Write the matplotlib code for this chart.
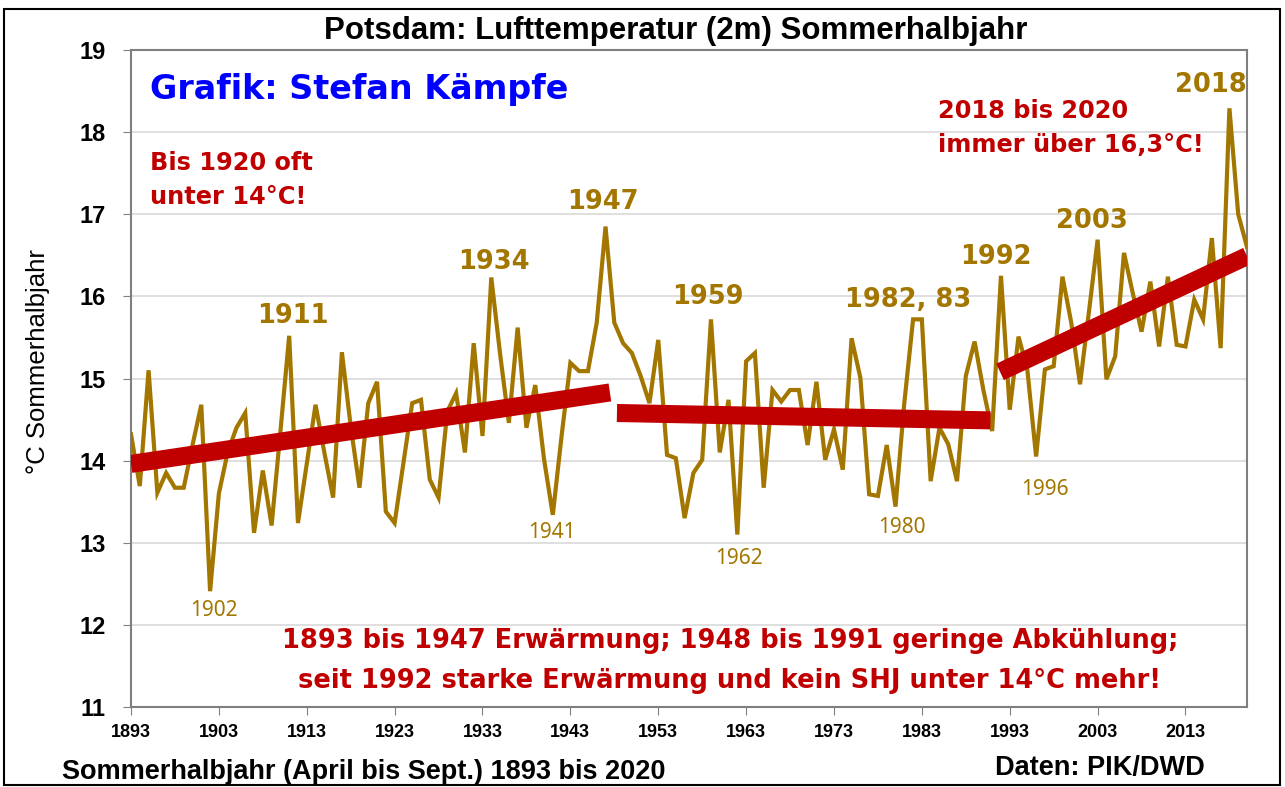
"""Potsdam: Lufttemperatur (2m) Sommerhalbjahr 1893-2020"""
import matplotlib
matplotlib.use('Agg')
import matplotlib.pyplot as plt, numpy as np
from matplotlib.patches import Rectangle

plt.rcParams['font.family'] = ['Liberation Sans', 'DejaVu Sans']

# ====== Daten ======
years = np.arange(1893, 2021)
temps = [
    14.32, 13.69, 15.10, 13.61, 13.85, 13.67, 13.67,                       # 1893-1899
    14.19, 14.68, 12.41, 13.60, 14.10, 14.40, 14.58, 13.12, 13.88, 13.21,  # 1900-1909
    14.35, 15.52, 13.24, 13.96, 14.68, 14.10, 13.55, 15.32, 14.42, 13.67,  # 1910-1919
    14.70, 14.96, 13.38, 13.24, 13.97, 14.70, 14.74, 13.77, 13.55, 14.60,  # 1920-1929
    14.82, 14.10, 15.43, 14.30, 16.23, 15.30, 14.46, 15.62, 14.40, 14.92,  # 1930-1939
    14.02, 13.34, 14.30, 15.19, 15.09, 15.09, 15.68, 16.85, 15.68, 15.43,  # 1940-1949
    15.31, 15.03, 14.70, 15.47, 14.07, 14.03, 13.30, 13.85, 14.01, 15.72,  # 1950-1959
    14.10, 14.74, 13.10, 15.21, 15.31, 13.67, 14.86, 14.72, 14.86, 14.86,  # 1960-1969
    14.19, 14.96, 14.01, 14.38, 13.89, 15.49, 15.01, 13.59, 13.57, 14.19,  # 1970-1979
    13.44, 14.70, 15.72, 15.72, 13.75, 14.40, 14.20, 13.75, 15.03, 15.45,  # 1980-1989
    14.86, 14.36, 16.25, 14.62, 15.51, 15.11, 14.05, 15.11, 15.15, 16.24,  # 1990-1999
    15.68, 14.93, 15.80, 16.69, 14.99, 15.27, 16.53, 16.04, 15.57, 16.18,  # 2000-2009
    15.39, 16.24, 15.41, 15.39, 15.96, 15.72, 16.71, 15.37, 18.29, 17.00,  # 2010-2019
    16.60,                                                                 # 2020
]

# lineare Trends (Endpunkte)
trend_x = [(1893, 1947.5), (1948.3, 1990.8), (1991.9, 2020)]
trend_y = [(13.96, 14.83), (14.58, 14.49), (15.08, 16.49)]

# Jahresbeschriftungen: fett (Maxima) und normal (Minima)
hi_labels = ['1911', '1934', '1947', '1959', '1982, 83', '1992', '2003', '2018']
hi_x = [1911.4, 1934.3, 1946.7, 1958.6, 1981.4, 1991.4, 2002.4, 2015.9]
hi_y = [15.76, 16.42, 17.15, 15.99, 15.96, 16.48, 16.92, 18.57]
lo_labels = ['1902', '1941', '1962', '1980', '1996']
lo_x = [1902.4, 1940.9, 1962.2, 1980.7, 1997.0]
lo_y = [12.18, 13.12, 12.81, 13.19, 13.65]

xticks = np.arange(1893, 2020, 10)
yticks = np.arange(11, 20, 1)

BROWN = '#a37600'
RED = '#c00000'
W, H = 1285, 787

fig = plt.figure(figsize=(W / 100, H / 100), dpi=100)
ax = fig.add_axes([131 / W, 1 - 707 / H, (1247 - 131) / W, (707 - 50) / H])

ax.plot(years, temps, color=BROWN, linewidth=3, zorder=3, solid_joinstyle='miter')
for (x0, x1), (y0, y1) in zip(trend_x, trend_y):
    ax.plot([x0, x1], [y0, y1], color=RED, linewidth=13, solid_capstyle='butt', zorder=4)

ax.set_xlim(1893, 2020)
ax.set_ylim(11, 19)
ax.set_xticks(xticks)
ax.set_yticks(yticks)
ax.tick_params(axis='x', labelsize=13, length=6, color='#808080', pad=6)
ax.tick_params(axis='y', labelsize=17, length=6, color='#808080', pad=12)
for lab in ax.get_xticklabels() + ax.get_yticklabels():
    lab.set_fontweight('bold')
ax.grid(axis='y', color='#d9d9d9', linewidth=1.2)
ax.set_axisbelow(True)
for s in ax.spines.values():
    s.set_color('#7f7f7f'); s.set_linewidth(1.5)

for t, x, y in zip(hi_labels, hi_x, hi_y):
    ax.text(x, y, t, color=BROWN, fontsize=18.5, fontweight='bold', family='DejaVu Sans',
            ha='center', va='center', zorder=5)
for t, x, y in zip(lo_labels, lo_x, lo_y):
    ax.text(x, y, t, color=BROWN, fontsize=15, family='Noto Sans',
            ha='center', va='center', zorder=5)

def fx(px): return px / W
def fy(py): return 1 - py / H

fig.text(fx(676), fy(31), 'Potsdam: Lufttemperatur (2m) Sommerhalbjahr',
         fontsize=22.5, fontweight='bold', ha='center', va='center')
fig.text(fx(150), fy(90), 'Grafik: Stefan Kämpfe', color='#0000ff', fontsize=24,
         fontweight='bold', family='DejaVu Sans', ha='left', va='center')
fig.text(fx(150), fy(180), 'Bis 1920 oft\nunter 14°C!', color=RED, fontsize=17.3,
         fontweight='bold', family='DejaVu Sans', ha='left', va='center', linespacing=1.5)
fig.text(fx(938), fy(128), '2018 bis 2020\nimmer über 16,3°C!', color=RED, fontsize=17.3,
         fontweight='bold', family='DejaVu Sans', ha='left', va='center', linespacing=1.5)
fig.text(fx(730), fy(661), '1893 bis 1947 Erwärmung; 1948 bis 1991 geringe Abkühlung;\n'
         'seit 1992 starke Erwärmung und kein SHJ unter 14°C mehr!', color=RED, fontsize=18.5,
         fontweight='bold', family='DejaVu Sans', ha='center', va='center', linespacing=1.65)

fig.text(fx(38), fy(362), '°C Sommerhalbjahr', rotation=90, fontsize=18.5,
         ha='center', va='center')
fig.text(fx(62), fy(772), 'Sommerhalbjahr (April bis Sept.) 1893 bis 2020', fontsize=19.5,
         fontweight='bold', ha='left', va='center')
fig.text(fx(1205), fy(768), 'Daten: PIK/DWD', fontsize=19.5, fontweight='bold',
         ha='right', va='center')

fig.patches.append(Rectangle((fx(4), fy(785)), (1280 - 4) / W, (785 - 9) / H,
                             transform=fig.transFigure, fill=False,
                             edgecolor='black', linewidth=1.5))

fig.savefig('out.png', dpi=100)
